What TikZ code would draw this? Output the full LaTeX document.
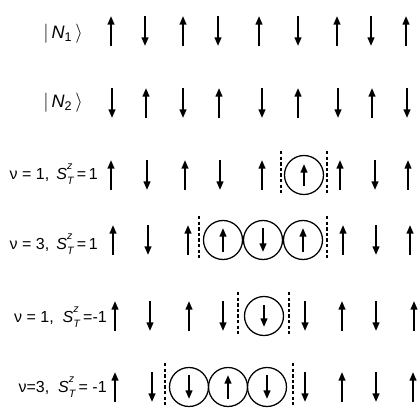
\documentclass[tikz,border=0pt]{standalone}
\usepackage{fontspec}
\setmainfont{Liberation Sans}
\usetikzlibrary{arrows.meta}
\newcommand\spinup[3][15]{\draw[spin] (#2,#3+#1) -- (#2,#3-#1);}
\newcommand\spindn[3][15]{\draw[spin] (#2,#3-#1) -- (#2,#3+#1);}
\newcommand\ringat[2]{\draw[ring] (#1,#2) circle[radius=19.5];}
\newcommand\cutat[2]{\draw[cut] (#1,#2-24) -- (#1,#2+18);}
\newcommand\Szt{\textit{S}\rlap{\raisebox{1.25ex}{\fontsize{8}{8}\selectfont\textit{z}}}\raisebox{-0.55ex}{\fontsize{8}{8}\selectfont\textit{T}}}
\newcommand\ket[1]{$|$\,\textit{N}\textsubscript{#1}\,$\rangle$}
\begin{document}
\begin{tikzpicture}[x=0.75pt,y=-0.75pt,
 spin/.style={line width=1.5pt,-{Triangle[length=6.5pt,width=5pt]}},
 ring/.style={line width=0.95pt},
 cut/.style={line width=0.9pt,dash pattern=on 2.6pt off 1.6pt},
 lab/.style={anchor=east,inner sep=0pt,font=\fontsize{12}{14}\selectfont},
 klab/.style={anchor=east,inner sep=0pt,font=\fontsize{13.5}{15}\selectfont}]
\useasboundingbox (0,0) rectangle (420,411);
% labels
\node[klab] (l1) at (83,34) {\ket{1}};
\node[klab] (l2) at (83,103) {\ket{2}};
\node[lab] (l3) at (98,174) {ν = 1, \,\Szt\,=\,1};
\node[lab] (l4) at (98,244) {ν = 3, \,\Szt\,=\,1};
\node[lab] (l5) at (107,317) {ν = 1, \ \Szt\,=-1};
\node[lab] (l6) at (107,387) {ν=3, \ \Szt\,= -1};
% row 1
\spinup{111}{31}\spindn{145}{31}\spinup{183}{31}\spindn{218}{31}\spinup{259}{31}
\spindn{298}{31}\spinup{337}{31}\spindn{371}{31}\spinup{406}{31}
% row 2
\spindn{112}{103}\spinup{146}{103}\spindn{183}{103}\spinup{219}{103}\spindn{262}{103}
\spinup{298}{103}\spindn{338}{103}\spinup{372}{103}\spindn{407}{103}
% row 3
\spinup{111}{175}\spindn{147}{175}\spinup{185}{175}\spindn{220}{175}\spinup{262}{175}
\cutat{281}{175}\ringat{304}{175}\spinup[11]{304}{175}\cutat{327}{175}
\spinup{340}{175}\spindn{375}{175}\spinup{408}{175}
% row 4
\spinup{113}{240}\spindn{148}{240}\spinup{188}{240}
\cutat{199}{240}
\ringat{223}{240}\spinup[12]{223}{240}
\ringat{263}{240}\spindn[12]{263}{240}
\ringat{303}{240}\spinup[12]{303}{240}
\cutat{327}{240}
\spinup{343}{240}\spindn{376}{240}\spinup{410}{240}
% row 5
\spinup{115}{316}\spindn{150}{316}\spinup{189}{316}\spindn{223}{316}
\cutat{238}{316}\ringat{264}{316}\spindn[11]{264}{316}\cutat{289}{316}
\spindn{305}{316}\spinup{342}{316}\spindn{376}{316}\spinup{414}{316}
% row 6
\spinup{115}{387}\spindn{152}{387}
\cutat{165}{387}
\ringat{189}{387}\spindn[12]{189}{387}
\ringat{228}{387}\spinup[12]{228}{387}
\ringat{267}{387}\spindn[12]{267}{387}
\cutat{293}{387}
\spindn{305}{387}\spinup{342}{387}\spindn{376}{387}\spinup{413}{387}
\end{tikzpicture}
\end{document}
